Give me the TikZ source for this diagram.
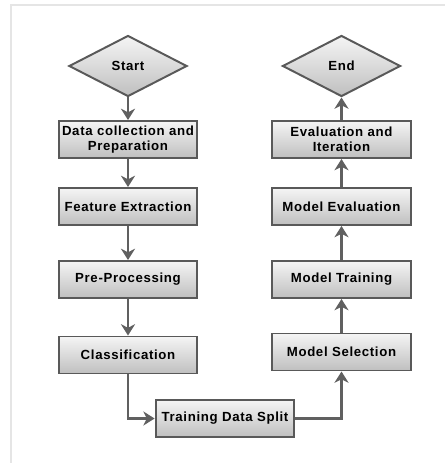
\documentclass[tikz,border=0pt]{standalone}
\usepackage{fontspec}
\setmainfont{Liberation Sans}[LetterSpace=5]
\usetikzlibrary{shapes.geometric,arrows.meta}
\tikzset{
	flowbox/.style={draw=gray!70!black, line width=1.4pt, rectangle, top color=gray!8,
		bottom color=gray!50, minimum width=3.45cm, minimum height=0.925cm,
		text centered, text width=3.4cm, inner sep=1pt,
		font=\fontsize{9.4}{10.4}\selectfont\bfseries},
	flowend/.style={draw=gray!70!black, line width=1.4pt, diamond, aspect=1.93,
		top color=gray!8, bottom color=gray!50, minimum width=2.95cm,
		minimum height=1.525cm, inner sep=0pt, font=\fontsize{9.4}{10.4}\selectfont\bfseries},
	flowlink/.style={draw=gray!75!black, line width=1.5pt,
		-{Stealth[length=8pt,width=10pt,inset=2.5pt]}}
}
\begin{document}
\begin{tikzpicture}[x=0.025cm,y=-0.025cm]
		\useasboundingbox (0,0) rectangle (445,463);
		
		%Frame
		\draw[gray!20, line width=0.8pt] (11,463) -- (11,5) -- (445,5);
		
		%Blocks
		\node (Start) at (128,66) [flowend]{Start};
		\node (DataCollection) at (128,139.5) [flowbox]{Data collection and\\Preparation};
		\node (FeatureExtraction) at (128,206.5) [flowbox]{Feature Extraction};
		\node (PreProcessing) at (128,279.5) [flowbox]{Pre-Processing};
		\node (Classification) at (128,355) [flowbox]{Classification};
		\node (TrainingDataSplit) at (225,418.5) [flowbox]{Training Data Split};
		\node (ModelSelection) at (341.5,352) [flowbox]{Model Selection};
		\node (ModelTraining) at (341.5,279.5) [flowbox]{Model Training};
		\node (ModelEvaluation) at (341.5,206.5) [flowbox]{Model Evaluation};
		\node (EvaluationIteration) at (341.5,139.5) [flowbox]{Evaluation and\\Iteration};
		\node (End) at (341.5,66) [flowend]{End};
		
		%Links
		\draw[flowlink] (Start) -- (DataCollection);
		\draw[flowlink] (DataCollection) -- (FeatureExtraction);
		\draw[flowlink] (FeatureExtraction) -- (PreProcessing);
		\draw[flowlink] (PreProcessing) -- (Classification);
		\draw[flowlink] (Classification) |- (TrainingDataSplit);
		\draw[flowlink] (TrainingDataSplit) -| (ModelSelection);
		\draw[flowlink] (ModelSelection) -- (ModelTraining);
		\draw[flowlink] (ModelTraining) -- (ModelEvaluation);
		\draw[flowlink] (ModelEvaluation) -- (EvaluationIteration);
		\draw[flowlink] (EvaluationIteration) -- (End);
		
		\end{tikzpicture}
\end{document}
